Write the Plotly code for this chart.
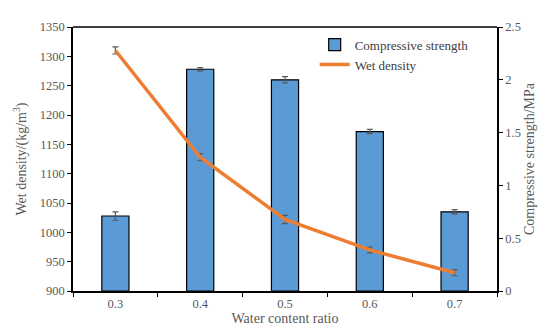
import plotly.graph_objects as go

categories = ["0.3", "0.4", "0.5", "0.6", "0.7"]
strength = [0.71, 2.10, 2.00, 1.51, 0.75]
strength_err = [0.04, 0.015, 0.03, 0.02, 0.02]
density = [1310, 1128, 1022, 970, 931]
density_err = [6, 6, 7, 5, 5]

FONT = "Liberation Serif, Times New Roman, serif"
GRAY = "#595959"

fig = go.Figure()
fig.add_trace(go.Bar(
    x=categories, y=strength, name="Compressive strength", yaxis="y",
    marker=dict(color="#5B9BD5", line=dict(color="black", width=1.2)),
    width=0.32,
    error_y=dict(type="data", array=strength_err, color=GRAY, thickness=1.2, width=3),
))
fig.add_trace(go.Scatter(
    x=categories, y=density, name="Wet density", yaxis="y2", mode="lines",
    line=dict(color="#ED7D31", width=3.5),
    error_y=dict(type="data", array=density_err, color=GRAY, thickness=1.2, width=3),
))

fig.update_layout(
    width=550, height=330,
    margin=dict(l=61, r=61, t=13, b=47),
    paper_bgcolor="white", plot_bgcolor="white",
    font=dict(family=FONT, size=12, color=GRAY),
    showlegend=True,
    legend=dict(x=0.57, y=0.99, xanchor="left", yanchor="top",
                bgcolor="rgba(0,0,0,0)", font=dict(family=FONT, size=13, color="#404040"),
                tracegroupgap=0, itemwidth=30),
    xaxis=dict(
        type="category", tickson="boundaries", ticks="outside", ticklen=4,
        tickcolor="black", showline=True, linecolor="black", linewidth=1.5,
        mirror=False, showgrid=False,
        title=dict(text="Water content ratio", font=dict(family=FONT, size=14, color=GRAY), standoff=0),
        tickfont=dict(family=FONT, size=12.5, color=GRAY),
    ),
    yaxis=dict(
        side="right", range=[0, 2.5], dtick=0.5, tickformat="~g",
        ticks="outside", ticklen=4, tickcolor="black",
        showline=True, linecolor="black", linewidth=1.5, showgrid=False, zeroline=False,
        title=dict(text="Compressive strength/MPa", font=dict(family=FONT, size=14, color=GRAY), standoff=4),
        tickfont=dict(family=FONT, size=12.5, color=GRAY),
    ),
    yaxis2=dict(
        side="left", overlaying="y", range=[900, 1350], dtick=50,
        ticks="outside", ticklen=4, tickcolor="black",
        showline=True, linecolor="black", linewidth=1.5, showgrid=False, zeroline=False,
        title=dict(text="Wet density/(kg/m<sup>3</sup>)", font=dict(family=FONT, size=14, color=GRAY), standoff=10),
        tickfont=dict(family=FONT, size=12.5, color=GRAY),
    ),
)
fig.add_shape(type="line", xref="paper", yref="paper", x0=0, x1=1, y0=1, y1=1,
              line=dict(color="black", width=1.5))

fig.write_html("out.html")
